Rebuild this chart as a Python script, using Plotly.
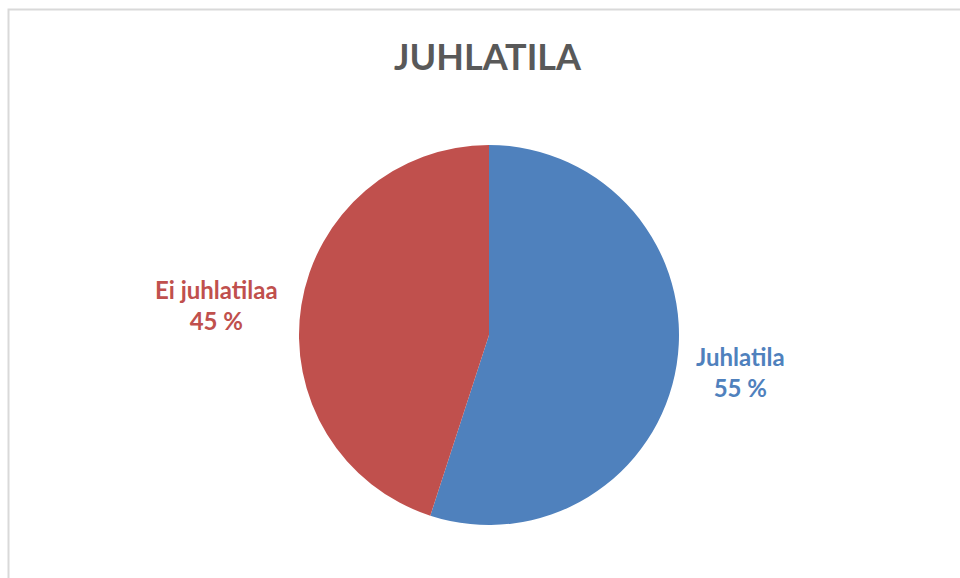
import plotly.graph_objects as go

categories = ["Juhlatila", "Ei juhlatilaa"]
values = [55, 45]
colors = ["#4F81BD", "#C0504D"]
title_text = "JUHLATILA"

W, H = 960, 578
cx, cy, r = 489, 335, 190

fig = go.Figure(go.Pie(
    labels=categories,
    values=values,
    sort=False,
    direction="clockwise",
    rotation=0,
    marker=dict(colors=colors, line=dict(width=0)),
    textinfo="none",
    hoverinfo="label+percent",
    showlegend=False,
    domain=dict(x=[(cx - r) / W, (cx + r) / W], y=[1 - (cy + r) / H, 1 - (cy - r) / H]),
))

label_pos = [(740, 372), (216, 305)]
annotations = []
for cat, val, col, (px, py) in zip(categories, values, colors, label_pos):
    annotations.append(dict(
        x=px / W, y=1 - py / H, xref="paper", yref="paper",
        text=f"<b>{cat}<br>{val} %</b>", showarrow=False,
        font=dict(family="Lato, Open Sans, sans-serif", size=24, color=col),
        align="center", xanchor="center", yanchor="middle",
    ))
annotations.append(dict(
    x=488 / W, y=1 - 56 / H, xref="paper", yref="paper",
    text=f"<b>{title_text}</b>", showarrow=False,
    font=dict(family="Lato, Open Sans, sans-serif", size=36, color="#595959"),
    xanchor="center", yanchor="middle",
))

fig.update_layout(
    width=W, height=H,
    margin=dict(l=0, r=0, t=0, b=0),
    paper_bgcolor="white", plot_bgcolor="white",
    annotations=annotations,
    shapes=[dict(type="rect", xref="paper", yref="paper",
                 x0=8.5 / W, x1=1.05, y0=-0.05, y1=1 - 9.5 / H,
                 line=dict(color="#D9D9D9", width=2), fillcolor="rgba(0,0,0,0)")],
)

fig.write_html("out.html")
